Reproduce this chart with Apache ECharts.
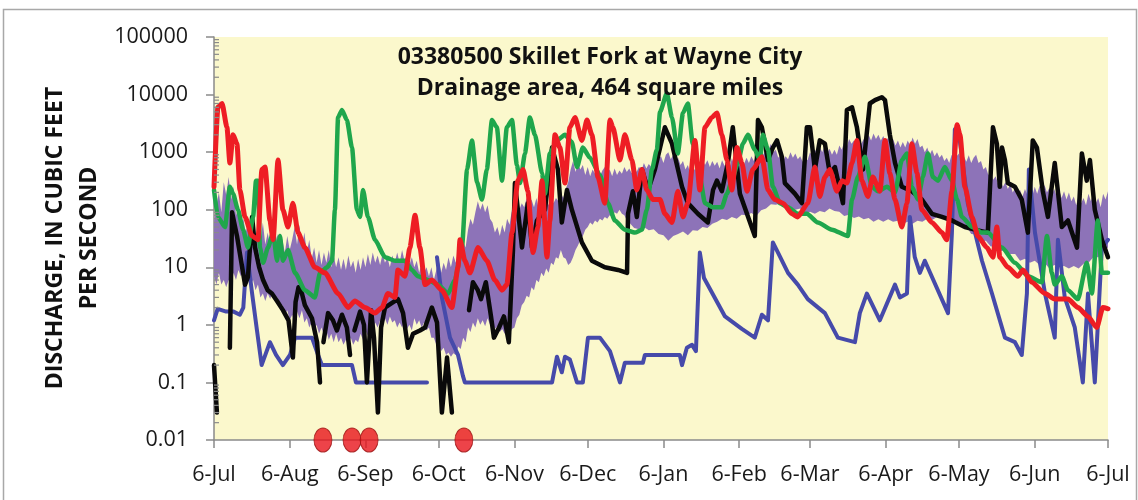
<!DOCTYPE html>
<html><head><meta charset="utf-8">
<script src="https://cdn.jsdelivr.net/npm/echarts@6/dist/echarts.min.js"></script>
<style>html,body{margin:0;padding:0;background:#fff}#c{width:1138px;height:500px}</style>
</head><body><div id="c"></div>
<script>
// ---- axis ticks ----
const xTickDays = [0,31,62,92,123,153,184,215,244,275,305,336,366];
const xTickLabels = ['6-Jul','6-Aug','6-Sep','6-Oct','6-Nov','6-Dec','6-Jan','6-Feb','6-Mar','6-Apr','6-May','6-Jun','6-Jul'];
const yTickValues = [0.01,0.1,1,10,100,1000,10000,100000];
const yTickLabels = ['0.01','0.1','1','10','100','1000','10000','100000'];
const minorMultipliers = [2,3,4,5,6,7,8,9];

// ---- data: [day since 6-Jul, discharge cfs] ----
const bandUpper = [[0,60],[1,120],[2,200],[3,90],[4,300],[5,180],[6,370],[7,150],[8,250],[9,80],[10,110],[11,50],[12,70],[13,40],[14,65],[15,35],[16,55],[17,30],[18,45],[19,28],[20,60],[21,25],[22,40],[23,22],[24,45],[25,24],[26,38],[27,20],[28,30],[29,18],[30,35],[31,20],[32,30],[33,50],[34,25],[35,55],[36,22],[37,40],[38,18],[39,30],[40,14],[41,22],[42,12],[43,20],[44,11],[45,18],[46,12],[47,20],[48,10],[49,16],[50,10],[51,15],[52,9],[53,14],[54,9],[55,16],[56,10],[57,13],[58,8],[59,14],[60,9],[61,15],[62,10],[63,17],[64,11],[65,18],[66,12],[67,16],[68,11],[69,17],[70,12],[71,15],[72,10],[73,16],[74,12],[75,18],[76,12],[77,20],[78,13],[79,17],[80,11],[81,15],[82,10],[83,13],[84,8],[85,12],[86,8],[87,10],[88,7],[89,10],[90,6],[91,9],[92,13],[93,8],[94,12],[95,9],[96,15],[97,10],[98,16],[99,12],[100,20],[101,16],[102,28],[103,22],[104,45],[105,70],[106,55],[107,90],[108,140],[109,100],[110,130],[111,90],[112,120],[113,70],[114,60],[115,40],[116,50],[117,35],[118,55],[119,40],[120,70],[121,55],[122,100],[123,80],[124,140],[125,100],[126,130],[127,110],[128,160],[129,120],[130,150],[131,110],[132,160],[133,100],[134,140],[135,110],[136,150],[137,120],[138,170],[139,130],[140,160],[141,140],[142,190],[143,160],[144,230],[145,300],[146,500],[147,700],[148,450],[149,650],[150,500],[151,600],[152,400],[153,550],[154,380],[155,500],[156,420],[157,520],[158,380],[159,480],[160,550],[161,420],[162,500],[163,380],[164,520],[165,400],[166,480],[167,420],[168,550],[169,450],[170,520],[171,430],[172,580],[173,450],[174,560],[175,480],[176,650],[177,520],[178,620],[179,550],[180,700],[181,600],[182,750],[183,850],[184,650],[185,900],[186,1000],[187,750],[188,900],[189,700],[190,800],[191,600],[192,700],[193,500],[194,600],[195,420],[196,550],[197,480],[198,700],[199,550],[200,750],[201,600],[202,720],[203,550],[204,700],[205,580],[206,680],[207,520],[208,720],[209,580],[210,650],[211,520],[212,780],[213,600],[214,820],[215,650],[216,780],[217,620],[218,800],[219,650],[220,850],[221,700],[222,900],[223,750],[224,1100],[225,900],[226,1300],[227,1100],[228,1400],[229,1000],[230,1100],[231,800],[232,900],[233,700],[234,850],[235,750],[236,1000],[237,800],[238,950],[239,750],[240,850],[241,680],[242,800],[243,720],[244,1000],[245,850],[246,1100],[247,950],[248,1250],[249,1000],[250,1300],[251,950],[252,1150],[253,900],[254,1100],[255,900],[256,1300],[257,1100],[258,1500],[259,1200],[260,1700],[261,1400],[262,1600],[263,1300],[264,1800],[265,1400],[266,1700],[267,1500],[268,2000],[269,1600],[270,2100],[271,1700],[272,2000],[273,1600],[274,1900],[275,1500],[276,1800],[277,1400],[278,1700],[279,1300],[280,1600],[281,1200],[282,1500],[283,1200],[284,1600],[285,1300],[286,1800],[287,1400],[288,1700],[289,1200],[290,1300],[291,1000],[292,1200],[293,900],[294,1100],[295,850],[296,1000],[297,800],[298,900],[299,700],[300,800],[301,650],[302,900],[303,700],[304,850],[305,950],[306,700],[307,850],[308,680],[309,880],[310,650],[311,800],[312,900],[313,650],[314,700],[315,500],[316,550],[317,400],[318,450],[319,330],[320,380],[321,280],[322,330],[323,250],[324,300],[325,230],[326,280],[327,200],[328,240],[329,180],[330,220],[331,170],[332,230],[333,180],[334,240],[335,170],[336,250],[337,190],[338,260],[339,200],[340,270],[341,200],[342,240],[343,180],[344,230],[345,170],[346,220],[347,160],[348,210],[349,150],[350,200],[351,140],[352,170],[353,120],[354,180],[355,130],[356,160],[357,120],[358,190],[359,140],[360,200],[361,130],[362,160],[363,110],[364,190],[365,150],[366,210]];
const bandLower = [[0,7],[1,5],[2,8],[3,5],[4,6],[5,4.5],[6,6],[7,5],[8,8],[9,6],[10,9],[11,7],[12,10],[13,7],[14,8],[15,5],[16,6],[17,4],[18,5],[19,3],[20,3.5],[21,2.6],[22,3.5],[23,2.8],[24,3.8],[25,2.5],[26,3],[27,2],[28,2.2],[29,1.5],[30,1.8],[31,1.2],[32,1.5],[33,1.1],[34,1.7],[35,1.3],[36,1.8],[37,1.1],[38,1.3],[39,0.9],[40,1.1],[41,0.8],[42,1],[43,0.7],[44,0.9],[45,0.65],[46,0.8],[47,0.55],[48,0.7],[49,0.5],[50,0.7],[51,0.5],[52,0.6],[53,0.45],[54,0.55],[55,0.45],[56,0.6],[57,0.45],[58,0.55],[59,0.5],[60,0.7],[61,0.55],[62,0.8],[63,0.65],[64,1],[65,0.8],[66,1.1],[67,0.9],[68,1.2],[69,0.95],[70,1.3],[71,1],[72,1.4],[73,1.1],[74,1.2],[75,0.9],[76,1.1],[77,0.9],[78,1.2],[79,0.85],[80,1],[81,0.8],[82,1.3],[83,1],[84,1.2],[85,0.9],[86,1.1],[87,0.8],[88,0.9],[89,0.6],[90,0.6],[91,0.45],[92,0.45],[93,0.35],[94,0.4],[95,0.3],[96,0.33],[97,0.28],[98,0.32],[99,0.3],[100,0.42],[101,0.38],[102,0.6],[103,0.5],[104,0.9],[105,0.75],[106,1.1],[107,0.9],[108,1.3],[109,1],[110,1.2],[111,0.95],[112,1.3],[113,1],[114,1.1],[115,0.85],[116,0.95],[117,0.75],[118,0.85],[119,0.7],[120,0.85],[121,0.7],[122,0.85],[123,0.9],[124,1.3],[125,1.5],[126,2.2],[127,2.5],[128,3.2],[129,3],[130,4.5],[131,4],[132,6],[133,5.5],[134,8],[135,7],[136,9.5],[137,8],[138,12],[139,11],[140,15],[141,14],[142,20],[143,15],[144,14],[145,11],[146,12],[147,15],[148,20],[149,24],[150,30],[151,35],[152,45],[153,50],[154,60],[155,55],[156,65],[157,60],[158,70],[159,65],[160,75],[161,70],[162,80],[163,75],[164,90],[165,85],[166,100],[167,85],[168,80],[169,65],[170,60],[172,48],[174,46],[176,50],[178,44],[180,46],[182,38],[184,36],[186,29],[188,35],[190,38],[192,42],[194,36],[196,44],[198,43],[200,50],[202,48],[204,57],[206,62],[208,70],[210,66],[212,75],[214,70],[216,82],[218,80],[220,88],[222,78],[224,98],[226,105],[228,125],[230,122],[232,128],[234,105],[236,115],[238,100],[240,105],[242,82],[244,92],[246,85],[248,95],[250,90],[252,105],[254,95],[256,92],[258,78],[260,82],[262,72],[264,76],[266,68],[268,72],[270,62],[272,68],[274,62],[276,68],[278,62],[280,64],[282,57],[284,62],[286,57],[288,64],[290,62],[292,70],[294,66],[296,75],[298,72],[300,72],[302,62],[304,65],[306,56],[308,52],[310,38],[312,37],[314,28],[316,29],[318,23],[320,23],[322,19],[324,20],[326,17],[328,17],[330,13],[332,14],[334,12],[336,13],[338,11],[340,12],[342,9.5],[344,11],[346,10],[348,10.5],[350,9.5],[352,10.5],[354,9.5],[356,11.5],[358,12],[360,15],[362,15],[364,19],[366,22]];

const blueFlow = [[0,1.2],[1.5,1.9],[5,1.7],[8,1.7],[10.6,1.5],[12,2],[13.5,18],[15.6,3.5],[17.6,0.8],[19.5,0.2],[22.9,0.5],[25.4,0.3],[28.2,0.2],[31.1,0.3],[33.2,0.6],[40.1,0.6],[42.6,0.3],[44.2,0.2],[56.5,0.2],[58.1,0.1],[87.2,0.1],[89,'-'],[91.3,15],[93.3,3],[96.6,0.6],[99.9,0.3],[101.9,0.13],[102.7,0.1],[138.4,0.1],[140.4,0.28],[142.4,0.15],[143.7,0.28],[145.7,0.25],[148.6,0.1],[151,0.1],[153.1,0.6],[158,0.6],[162.1,0.35],[166.2,0.1],[168.2,0.22],[175.6,0.22],[176.4,0.3],[190.7,0.3],[191.6,0.2],[193.6,0.4],[195.7,0.45],[197.3,0.35],[198.9,18],[200.6,6.5],[209.2,1.4],[216.1,0.85],[221.4,0.6],[224.3,1.5],[226.8,1.2],[228.8,27],[230.9,18],[235,8],[239,5],[243.1,2.8],[250.1,1.6],[255.4,0.6],[262.4,0.5],[264.4,1.6],[267.3,3.5],[272.6,1.2],[278.8,5],[280.8,3],[283.7,3.5],[284.9,75],[286.9,15],[289,8],[291,13],[300.5,1.6],[302.1,40],[303.3,2500],[305.4,1500],[308.6,130],[314.4,13],[318.5,3.5],[323.8,0.6],[327.9,0.5],[330.7,0.3],[332.8,3.5],[333.6,500],[336.1,40],[340.2,3.5],[344.2,0.6],[345.5,30],[348.3,3],[352.4,0.9],[355.7,0.1],[357.8,3.5],[360.6,0.1],[363.5,22],[366,30]];

const blackFlow = [[0,0.2],[1.2,0.03],[2,'-'],[6.5,0.4],[7.4,90],[9.4,35],[12.7,5],[13.9,6.8],[15.6,75],[16.8,22],[18.5,10],[20.1,6],[22,4],[23.7,3.5],[25.8,2.6],[28.2,1.8],[30.5,1.2],[32.3,0.27],[33.4,2.5],[34.6,4.5],[36,3.5],[37.2,2.2],[40.1,1.3],[42.2,0.5],[43.4,0.1],[44,'-'],[44.8,0.5],[46.7,1.6],[48.7,1.2],[50.3,0.8],[52.4,1.5],[54.4,0.9],[55.7,0.3],[56.5,'-'],[57.5,0.8],[59.8,1.7],[61.4,1],[62.6,0.1],[64.3,1.8],[65.5,0.6],[67.1,0.03],[68.4,0.9],[70,2],[72.9,2.4],[75.3,2.8],[77.4,1.6],[79.4,0.4],[81.5,0.7],[84.3,0.8],[86.4,0.9],[89.2,2],[91.3,1.1],[93.3,0.03],[95.4,0.27],[97.4,0.03],[99,'-'],[104.4,1.8],[106,5.5],[108,4],[109.3,2.8],[111.3,5.5],[113.4,1.4],[114.6,0.6],[116.7,0.9],[118.7,1.4],[120.7,0.5],[122.4,20],[123.2,290],[126.1,22],[128.5,130],[130.2,22],[132.2,65],[135.5,100],[138.4,1200],[140.8,500],[142.4,60],[144.5,220],[146.5,100],[150.6,27],[154.7,13],[160,10],[165.4,9],[169.1,8],[169.5,85],[171.5,210],[173.1,75],[175.2,500],[177.7,220],[180.5,500],[184.6,2700],[187.5,1400],[191.6,250],[194,130],[198.1,85],[202.2,60],[204.3,220],[205.9,320],[207.9,210],[210.4,650],[212.4,2700],[215.3,190],[218.2,85],[221.4,35],[222.7,3600],[224.3,2700],[226.8,730],[228.8,1200],[230.5,1600],[232.5,830],[233.7,290],[237.8,190],[240.7,130],[242.7,2700],[244,2700],[246,500],[248,1600],[250.1,1400],[252.1,430],[254.2,550],[257.5,130],[259.1,5400],[261.2,6000],[263.2,2700],[265.7,500],[268.5,7000],[270.6,8000],[273.4,9000],[274.7,8000],[276.7,2000],[278.8,650],[281.6,250],[285.7,210],[289.8,150],[293.9,85],[298,75],[302.1,65],[307.4,50],[311.5,45],[316.8,40],[318.9,2700],[320.5,1400],[321.7,250],[322.6,1200],[323.8,730],[325,290],[327.9,250],[330.7,150],[333.2,40],[335.2,1600],[336.9,1200],[339.3,210],[341.4,75],[344.2,650],[347.1,50],[349.6,65],[353.3,22],[355.3,950],[357.3,320],[358.6,730],[360.6,100],[363.5,30],[366,15]];

const greenFlow = [[0,220],[1.6,75],[4.5,50],[6.5,250],[7.8,190],[9.8,100],[11.9,45],[13.9,22],[16,75],[17.2,320],[18,320],[18.8,22],[20.1,12],[22.1,22],[24.2,40],[25.8,13],[27,35],[28.2,13],[30.3,20],[33.2,8],[37.2,4],[41.3,3],[43.4,8],[46.3,10],[48.3,13],[49.5,100],[50.8,4000],[52.4,5400],[54.4,3600],[56.5,1200],[58.5,100],[59.8,75],[61,220],[63,75],[65.9,30],[70,15],[74.1,13],[78.2,13],[81,9],[83.5,7],[87.6,6],[91.7,5],[95.8,3.5],[98.6,6],[101.5,22],[103.6,500],[105.6,1600],[107.7,300],[109.7,150],[111.7,500],[113.8,3600],[115.8,2700],[117.9,320],[119.9,2700],[122,3600],[124,600],[125.3,290],[127.3,950],[129.3,4000],[131.4,2000],[134.3,430],[135.5,190],[137.5,950],[140.4,1600],[143.7,2000],[146.5,1500],[148.6,550],[151,1200],[153.9,800],[158,400],[161.3,130],[164.1,65],[168.2,45],[172.3,40],[175.2,45],[177.2,100],[179.3,500],[181.3,1100],[182.6,5000],[185.4,10500],[187.5,4000],[189.9,950],[192,4800],[194,7000],[196,1400],[198.9,370],[201,130],[204.3,110],[207.9,110],[210,190],[212,320],[214.5,650],[216.5,1400],[218.6,2000],[221.4,1100],[223.5,730],[224.7,2000],[226.8,1100],[228.8,250],[231.7,130],[235,110],[239,85],[242.7,85],[247.2,60],[253,45],[259.5,35],[261.2,150],[263.6,370],[266.5,830],[269.4,250],[271.8,210],[275.5,250],[278.8,200],[281.6,730],[283.7,950],[285.7,250],[288.2,150],[290.2,370],[292.3,950],[294.3,370],[296.4,320],[299.2,550],[302.1,320],[304.2,150],[306.2,75],[310.3,50],[314.4,40],[316.8,40],[322.6,22],[327.9,12],[333.2,7],[338.9,5.5],[341,35],[343,8],[344.2,5],[347.1,7],[349.6,4],[353.7,2.8],[357.3,12],[359.4,3.5],[361.8,65],[363.5,8],[366,8]];

const redFlow = [[0,250],[1.6,6000],[3.3,7000],[5.3,2700],[6.5,650],[7.8,2000],[9.4,1400],[10.6,220],[12.7,75],[15.6,35],[18,30],[19.6,500],[20.9,550],[22.9,65],[24.2,30],[26.2,730],[28.2,100],[30.3,50],[32.3,130],[34.4,40],[37.2,22],[41.3,10],[45.4,8],[50.8,3.5],[54.9,2],[57.7,2.6],[61.8,2],[65.9,1.6],[68.8,2],[71.2,3.5],[74.1,3],[75.3,9],[78.2,7],[80.2,22],[82.3,80],[84.3,22],[86.4,5],[89.2,6],[93.3,4],[97.4,2],[99.9,10],[100.7,30],[102.7,13],[104.8,8],[108.1,22],[111.7,13],[115,6],[117.9,4],[119.9,5],[122,40],[124.4,320],[126.5,500],[128.5,210],[130.6,18],[132.6,50],[134.3,320],[136.3,15],[137.5,65],[139.6,2000],[141.6,1200],[143.7,290],[145.7,2700],[147.8,4000],[150.6,1600],[152.7,3600],[154.7,2000],[157.2,370],[160,130],[162.1,3600],[163.3,2700],[166.2,730],[168.2,2000],[171.1,730],[173.1,220],[175.2,500],[177.2,220],[179.7,150],[182.6,150],[184.6,85],[187.5,60],[189.9,210],[192,75],[194,130],[196.9,1600],[198.9,220],[201,2700],[203.8,4000],[205.9,4800],[207.9,2000],[210,730],[212,220],[214.1,1200],[216.1,650],[218.2,210],[220.6,500],[224.3,830],[226.8,220],[229.6,150],[232.9,130],[236.6,85],[239,75],[243.1,130],[246,550],[248,170],[250.1,370],[252.1,500],[255,210],[257.1,320],[259.1,290],[261.2,650],[263.2,1600],[265.2,320],[267.7,170],[269.7,370],[272.6,210],[274.7,1600],[276.7,430],[278.8,150],[281.6,50],[283.7,130],[285.7,1400],[287.8,430],[289.8,100],[293.9,60],[298,40],[300,30],[302.1,210],[304.2,3000],[305.4,2000],[307.4,250],[310.3,75],[312.7,35],[316.4,22],[318.9,15],[320.5,50],[321.7,15],[325,10],[329.1,7],[331.2,9],[334.8,5.5],[340.2,3.5],[344.2,2.8],[349.6,2.8],[353.7,2],[357.8,1.4],[361.4,0.9],[363.9,2],[366,1.9]];

const dotDays = [44.6, 56.5, 63.5, 102.3];
const dotValue = 0.01;

const titleLines = ['03380500 Skillet Fork at Wayne City', 'Drainage area, 464 square miles'];
const yTitleLines = ['DISCHARGE, IN CUBIC FEET', 'PER SECOND'];

// minor ticks (2..9 within each decade)
const minorTicks = [];
for (let e = -2; e < 5; e++) for (const m of minorMultipliers) minorTicks.push(m * Math.pow(10, e));

const FONT = '"Open Sans", "Liberation Sans", sans-serif';
const chart = echarts.init(document.getElementById('c'), null, {renderer: 'canvas'});
const lineSeries = (name, data, color, width, smooth) => ({
  name, type: 'line', data, symbol: 'none', connectNulls: false, silent: true,
  smooth: smooth || false, smoothMonotone: 'x',
  lineStyle: {color, width, join: 'round', cap: 'round'}, z: 3
});
chart.setOption({
  animation: false,
  backgroundColor: '#ffffff',
  grid: {left: 214, right: 30, top: 37, bottom: 60, show: true, backgroundColor: '#FBF8CC', borderWidth: 0},
  xAxis: {
    type: 'value', min: 0, max: 366,
    axisLine: {onZero: false, lineStyle: {color: '#8a8a8a', width: 1.5}},
    axisTick: {show: true, customValues: xTickDays, length: 8, lineStyle: {color: '#8a8a8a', width: 1.5}},
    axisLabel: {customValues: xTickDays, formatter: v => xTickLabels[xTickDays.indexOf(v)], fontSize: 21.5, color: '#1a1a1a', fontFamily: FONT, margin: 24},
    splitLine: {show: false}
  },
  yAxis: {
    type: 'log', logBase: 10, min: 0.01, max: 100000,
    axisLine: {show: true, lineStyle: {color: '#8a8a8a', width: 1.5}},
    axisTick: {show: true, length: 8, lineStyle: {color: '#8a8a8a', width: 1.5}},
    axisLabel: {
      fontSize: 21.5, color: '#1a1a1a', fontFamily: FONT, margin: 26,
      formatter: v => { const i = yTickValues.findIndex(t => Math.abs(Math.log10(t) - Math.log10(v)) < 1e-6); return i >= 0 ? yTickLabels[i] : ''; }
    },
    splitLine: {show: false}
  },
  graphic: [
    {type: 'rect', shape: {x: 3.5, y: 9.5, width: 1133, height: 500}, style: {fill: 'none', stroke: '#a8a8a8', lineWidth: 1.5}, silent: true, z: -10},
    {type: 'text', x: 600, y: 57, style: {text: titleLines[0], font: 'bold 23px ' + FONT, fill: '#111', align: 'center', verticalAlign: 'middle'}, z: 20},
    {type: 'text', x: 600, y: 88, style: {text: titleLines[1], font: 'bold 23px ' + FONT, fill: '#111', align: 'center', verticalAlign: 'middle'}, z: 20},
    {type: 'text', x: 55, y: 238, rotation: Math.PI / 2, style: {text: yTitleLines[0], font: 'bold 23px ' + FONT, fill: '#111', align: 'center', verticalAlign: 'middle'}},
    {type: 'text', x: 89, y: 238, rotation: Math.PI / 2, style: {text: yTitleLines[1], font: 'bold 23px ' + FONT, fill: '#111', align: 'center', verticalAlign: 'middle'}}
  ],
  series: [
    {
      name: 'band', type: 'custom', silent: true, z: 2, data: [[0, 1]],
      renderItem: (params, api) => {
        const pts = bandUpper.map(p => api.coord(p)).concat(bandLower.slice().reverse().map(p => api.coord(p)));
        return {type: 'polygon', shape: {points: pts}, style: {fill: '#8D73B8'}};
      }
    },
    lineSeries('blue', blueFlow, '#464AAA', 4),
    lineSeries('black', blackFlow, '#0a0a0a', 4.5),
    lineSeries('green', greenFlow, '#1FA64C', 4.5, 0.2),
    lineSeries('red', redFlow, '#EE1D24', 5, 0.2),
    {
      name: 'minorTicks', type: 'custom', silent: true, z: 6, clip: false,
      data: minorTicks.map(v => [0, v]),
      renderItem: (params, api) => {
        const pt = api.coord([0, api.value(1)]);
        return {type: 'line', shape: {x1: pt[0], y1: pt[1], x2: pt[0] + 5, y2: pt[1]}, style: {stroke: '#8a8a8a', lineWidth: 1.2}};
      }
    },
    {
      name: 'dots', type: 'scatter', silent: true, clip: false, z: 8,
      data: dotDays.map(d => [d, dotValue]),
      symbol: 'circle', symbolSize: [18, 24],
      itemStyle: {color: '#E8141B', borderColor: '#9a1010', borderWidth: 1}
    }
  ]
});
</script>
</body></html>
